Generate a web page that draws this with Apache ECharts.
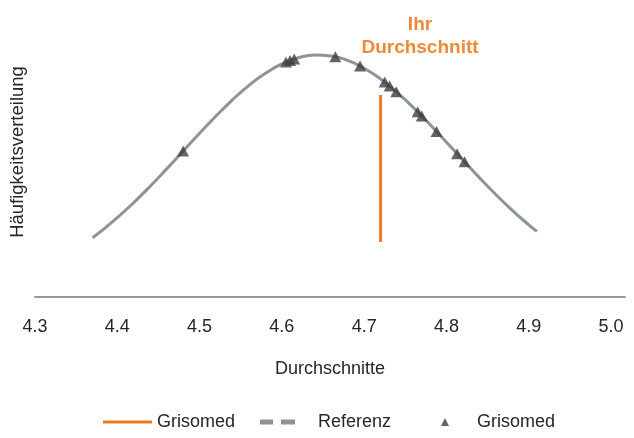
<!DOCTYPE html>
<html>
<head>
<meta charset="utf-8">
<script src="https://cdn.jsdelivr.net/npm/echarts@6/dist/echarts.min.js"></script>
<style>html,body{margin:0;padding:0;background:#fff}#c{width:634px;height:438px}</style>
</head>
<body>
<div id="c"></div>
<script>
// Reference curve (frequency distribution)
const curveX = [4.37,4.38,4.40,4.42,4.44,4.46,4.48,4.50,4.52,4.54,4.56,4.58,4.60,4.62,4.64,4.66,4.68,4.70,4.72,4.74,4.76,4.78,4.80,4.82,4.84,4.86,4.88,4.90,4.91];
const curveY = [0.593,0.656,0.793,0.944,1.108,1.281,1.459,1.637,1.810,1.972,2.116,2.237,2.331,2.392,2.419,2.410,2.366,2.288,2.180,2.046,1.893,1.725,1.548,1.370,1.194,1.025,0.867,0.722,0.656];
// Grisomed triangles
const pointX = [4.48,4.605,4.61,4.615,4.665,4.695,4.725,4.731,4.739,4.765,4.770,4.788,4.813,4.822];
const pointY = [1.459,2.349,2.366,2.380,2.402,2.310,2.149,2.109,2.053,1.852,1.810,1.655,1.432,1.352];
// Your average line
const avgX = [4.72,4.72];
const avgY = [0.55,2.02];
const xTicks = ['4.3','4.4','4.5','4.6','4.7','4.8','4.9','5.0'];

const zip = (a,b)=>a.map((v,i)=>[v,b[i]]);
const chart = echarts.init(document.getElementById('c'));
const font = '"Liberation Sans", Arial, sans-serif';
const txt = '#262626';
chart.setOption({
  animation:false,
  textStyle:{fontFamily:font},
  grid:{left:35,right:9,top:37,bottom:141},
  xAxis:{type:'value',min:4.3,max:5.017,interval:0.1,
    axisLine:{lineStyle:{color:'#9a9a9a',width:2}},
    axisTick:{show:false},splitLine:{show:false},
    axisLabel:{color:txt,fontSize:18,margin:21,showMaxLabel:false,fontFamily:font,
      formatter:v=>{const s=v.toFixed(1);return xTicks.includes(s)?s:'';}},
    name:'Durchschnitte',nameLocation:'middle',nameGap:63,
    nameTextStyle:{color:txt,fontSize:18,fontFamily:font}},
  yAxis:{type:'value',min:0,max:2.6,show:true,
    axisLine:{show:false},axisTick:{show:false},axisLabel:{show:false},splitLine:{show:false}},
  legend:[
    {left:98,top:408,itemWidth:49,itemHeight:3,textStyle:{fontSize:18,color:txt,fontFamily:font},
     data:[{name:'Grisomed',icon:'rect'}]},
    {left:255,top:408,itemWidth:35,itemHeight:5,textStyle:{fontSize:18,color:txt,fontFamily:font,padding:[0,0,0,18]},
     data:[{name:'Referenz',icon:'path://M0,0h13v5h-13z M21,0h14v5h-14z'}]},
    {left:436,top:408,itemWidth:8,itemHeight:8,textStyle:{fontSize:18,color:txt,fontFamily:font,padding:[0,0,0,23]},
     data:[{name:'Grisomed ',icon:'triangle'}]}
  ],
  graphic:[
    {type:'text',x:420,y:25,style:{text:'Ihr',fill:'#f08a3a',font:'bold 19px '+font,align:'center',verticalAlign:'middle'}},
    {type:'text',x:420,y:48,style:{text:'Durchschnitt',fill:'#f08a3a',font:'bold 19px '+font,align:'center',verticalAlign:'middle'}},
    {type:'text',x:18,y:152,rotation:Math.PI/2,
      style:{text:'Häufigkeitsverteilung',fill:txt,font:'18.5px '+font,align:'center',verticalAlign:'middle'}}
  ],
  series:[
    {name:'Referenz',type:'line',data:zip(curveX,curveY),smooth:true,showSymbol:false,
     lineStyle:{color:'#8c9494',width:3},itemStyle:{color:'#8c9494'},z:2},
    {name:'Grisomed',type:'line',data:zip(avgX,avgY),showSymbol:false,
     lineStyle:{color:'#f07a22',width:3},itemStyle:{color:'#f07a22'},z:3},
    {name:'Grisomed ',type:'scatter',data:zip(pointX,pointY),symbol:'triangle',symbolSize:[12,11],
     itemStyle:{color:'#3f3f3f'},z:4}
  ]
});
</script>
</body>
</html>
